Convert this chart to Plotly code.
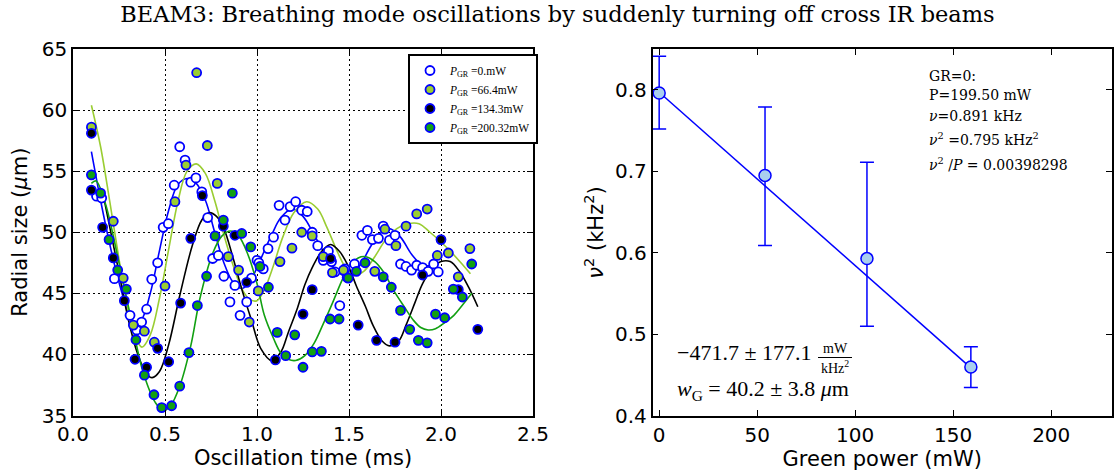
import plotly.graph_objects as go

W, H = 1115, 471

# ---------------- left panel data ----------------
t0 = [0.128, 0.156, 0.225, 0.31, 0.346, 0.373, 0.40, 0.428, 0.46, 0.49, 0.518, 0.55, 0.58, 0.609, 0.64,
      0.668, 0.70, 0.732, 0.759, 0.79, 0.82, 0.853, 0.88, 0.908, 0.944, 0.97, 1.00, 1.01, 1.034, 1.06,
      1.09, 1.12, 1.152, 1.18, 1.21, 1.243, 1.273, 1.30, 1.33, 1.36, 1.388, 1.405, 1.424, 1.45, 1.478,
      1.49, 1.53, 1.57, 1.60, 1.627, 1.66, 1.686, 1.72, 1.75, 1.78, 1.81, 1.84, 1.868, 1.90, 1.93,
      1.96, 1.985]
r0 = [52.95, 52.8, 46.2, 43.2, 42.0, 42.65, 43.7, 46.15, 47.5, 50.4, 50.7, 53.85, 57.0, 55.9, 54.1,
      54.45, 53.3, 51.2, 47.85, 48.1, 46.4, 44.3, 45.65, 43.2, 44.3, 46.25, 47.7, 47.5, 47.0, 48.66,
      49.6, 52.2, 51.0, 52.1, 52.5, 51.8, 51.7, 50.0, 48.9, 47.7, 48.45, 47.6, 46.75, 44.0, 47.0,
      46.3, 47.4, 49.75, 50.15, 49.4, 49.5, 50.5, 49.35, 49.75, 47.4, 47.2, 46.9, 47.3, 47.1, 46.8,
      47.4, 46.75]

t1 = [0.10, 0.219, 0.273, 0.328, 0.388, 0.442, 0.50, 0.554, 0.614, 0.672, 0.73, 0.784, 0.844, 0.90,
      0.958, 1.007, 1.125, 1.19, 1.243, 1.30, 1.36, 1.41, 1.47, 1.64, 1.695, 1.755, 1.81, 1.868,
      1.925, 1.98, 2.04, 2.094, 2.157]
r1 = [58.6, 50.9, 46.25, 42.4, 41.9, 41.0, 45.6, 52.5, 55.5, 63.06, 57.1, 54.0, 48.0, 46.9,
      42.65, 45.2, 47.6, 48.7, 50.0, 49.7, 48.0, 46.7, 46.9, 46.8, 50.25, 48.9, 50.5, 51.5,
      51.9, 48.1, 48.3, 46.35, 48.66]

t2 = [0.10, 0.10, 0.161, 0.219, 0.279, 0.337, 0.40, 0.46, 0.52, 0.585, 0.64, 0.703, 0.817, 0.88,
      0.944, 1.10, 1.25, 1.30, 1.40, 1.55, 1.65, 1.75, 1.90, 2.00, 2.094, 2.20]
r2 = [58.1, 53.45, 50.4, 47.9, 44.4, 39.6, 38.95, 40.5, 39.4, 44.2, 49.5, 53.0, 50.5, 49.75,
      45.9, 39.55, 43.3, 45.3, 47.85, 42.4, 41.15, 41.0, 46.5, 49.4, 45.3, 42.05]

t3 = [0.10, 0.15, 0.196, 0.243, 0.29, 0.342, 0.388, 0.44, 0.482, 0.536, 0.58, 0.63, 0.676, 0.726,
      0.772, 0.817, 0.866, 0.917, 0.966, 1.016, 1.062, 1.11, 1.156, 1.205, 1.25, 1.30, 1.35, 1.397,
      1.446, 1.496, 1.54, 1.587, 1.686, 1.73, 1.78, 1.83, 1.877, 1.925, 1.97, 2.02, 2.067, 2.116,
      2.167]
r3 = [54.7, 53.2, 49.4, 46.9, 45.35, 41.2, 38.3, 36.7, 35.65, 35.8, 37.4, 40.15, 44.0, 46.4,
      49.7, 51.0, 53.2, 49.9, 48.8, 47.2, 45.5, 41.8, 39.9, 41.6, 38.95, 40.2, 40.25, 42.9,
      42.9, 46.25, 46.8, 47.5, 46.35, 45.5, 43.6, 42.05, 41.15, 40.95, 43.3, 43.0, 45.35, 44.7,
      47.4]

# fitted curves
ft0 = [0.10, 0.15, 0.20, 0.25, 0.30, 0.33, 0.37, 0.42, 0.47, 0.52, 0.57, 0.62, 0.67, 0.72, 0.77,
       0.82, 0.87, 0.92, 0.97, 1.02, 1.08, 1.13, 1.19, 1.25, 1.31, 1.37, 1.43, 1.50, 1.56, 1.62,
       1.67, 1.72, 1.78, 1.84, 1.90, 1.95]
fr0 = [56.6, 52.6, 49.0, 45.9, 43.4, 42.6, 42.8, 45.0, 48.5, 51.8, 53.9, 54.4, 54.0, 52.6, 50.0,
       47.5, 45.9, 45.4, 46.2, 47.8, 49.8, 51.2, 51.9, 51.3, 49.8, 48.2, 46.9, 46.3, 47.3, 48.9,
       49.9, 50.3, 49.6, 48.2, 47.3, 47.3]

ft1 = [0.10, 0.15, 0.20, 0.25, 0.30, 0.34, 0.375, 0.42, 0.47, 0.52, 0.57, 0.62, 0.67, 0.72, 0.77,
       0.82, 0.87, 0.92, 0.96, 1.0, 1.04, 1.09, 1.14, 1.20, 1.27, 1.33, 1.38, 1.44, 1.49, 1.53,
       1.58, 1.64, 1.70, 1.76, 1.82, 1.88, 1.94, 2.0, 2.06, 2.12, 2.16]
fr1 = [60.4, 57.0, 52.5, 47.8, 43.6, 41.4, 40.6, 41.6, 44.6, 48.6, 52.5, 55.0, 55.6, 54.8, 52.6,
       49.8, 47.3, 45.3, 44.5, 44.4, 45.3, 47.3, 49.6, 51.6, 52.5, 51.9, 50.4, 48.3, 46.9, 46.5,
       46.8, 48.0, 49.4, 50.3, 50.7, 50.7, 50.0, 49.2, 48.3, 47.3, 46.6]

ft2 = [0.165, 0.2, 0.25, 0.30, 0.35, 0.40, 0.43, 0.47, 0.52, 0.58, 0.65, 0.70, 0.74, 0.78, 0.82,
       0.87, 0.92, 0.97, 1.02, 1.08, 1.13, 1.17, 1.22, 1.26, 1.30, 1.35, 1.40, 1.45, 1.50, 1.54,
       1.59, 1.63, 1.68, 1.72, 1.77, 1.81, 1.86, 1.90, 1.95, 2.0, 2.05, 2.10, 2.15, 2.20]
fr2 = [53.0, 50.4, 46.7, 42.9, 40.1, 38.4, 38.1, 38.6, 40.8, 44.8, 49.0, 51.0, 51.6, 51.3, 50.3,
       47.9, 45.2, 42.8, 40.5, 39.5, 40.2, 41.8, 43.8, 45.7, 47.1, 48.4, 49.0, 48.4, 47.1, 45.6,
       43.9, 42.4, 41.1, 40.7, 41.1, 42.4, 44.3, 45.8, 47.0, 47.6, 47.6, 46.8, 45.5, 43.9]

ft3 = [0.10, 0.125, 0.175, 0.25, 0.32, 0.38, 0.45, 0.49, 0.53, 0.58, 0.64, 0.69, 0.76, 0.81,
       0.855, 0.90, 0.95, 1.0, 1.04, 1.09, 1.13, 1.17, 1.21, 1.26, 1.31, 1.36, 1.41, 1.46, 1.50,
       1.55, 1.59, 1.64, 1.69, 1.74, 1.80, 1.85, 1.89, 1.93, 1.97, 2.02, 2.07, 2.12, 2.167]
fr3 = [54.0, 54.2, 52.4, 47.5, 42.6, 38.6, 36.0, 35.4, 35.8, 37.4, 40.7, 44.6, 48.3, 49.7,
       50.1, 49.7, 48.2, 45.8, 43.2, 41.3, 40.1, 39.6, 39.5, 39.9, 40.9, 42.5, 44.2, 46.0, 47.2,
       47.9, 48.0, 47.6, 46.7, 45.3, 43.9, 42.8, 42.2, 42.0, 42.1, 42.6, 43.2, 44.1, 45.0]

labels = ["<i>P</i><sub>GR</sub> =0.mW", "<i>P</i><sub>GR</sub> =66.4mW",
          "<i>P</i><sub>GR</sub> =134.3mW", "<i>P</i><sub>GR</sub> =200.32mW"]

# ---------------- right panel data ----------------
power = [0.0, 54.0, 106.0, 159.0]
nu2 = [0.796, 0.695, 0.593, 0.460]
nu2_up = [0.045, 0.084, 0.118, 0.025]
nu2_dn = [0.044, 0.086, 0.083, 0.025]
fit_p = [0.0, 159.0]
fit_nu2 = [0.797, 0.459]

# ---------------- styling ----------------
fill_cols = ["white", "#9acd32", "black", "#12a012"]
curve_cols = ["#0000ff", "#9acd32", "black", "#12a012"]

fig = go.Figure()

for tx, ry, c in zip([ft0, ft1, ft2, ft3], [fr0, fr1, fr2, fr3], curve_cols):
    fig.add_trace(go.Scatter(x=tx, y=ry, mode="lines", line=dict(color=c, width=1.6, shape="spline"),
                             showlegend=False, xaxis="x", yaxis="y", hoverinfo="skip"))

for tx, ry, fc, lab in zip([t0, t1, t2, t3], [r0, r1, r2, r3], fill_cols, labels):
    fig.add_trace(go.Scatter(x=tx, y=ry, mode="markers", name=lab,
                             marker=dict(size=9, color=fc, line=dict(color="#0000ff", width=1.8)),
                             xaxis="x", yaxis="y"))

fig.add_trace(go.Scatter(x=fit_p, y=fit_nu2, mode="lines", line=dict(color="#0000ff", width=1.5),
                         showlegend=False, xaxis="x2", yaxis="y2"))
fig.add_trace(go.Scatter(x=power, y=nu2, mode="markers", showlegend=False,
                         error_y=dict(type="data", symmetric=False, array=nu2_up, arrayminus=nu2_dn,
                                      color="#0000ff", thickness=1.5, width=7),
                         marker=dict(size=12, color="#a9cfee", line=dict(color="#0000ff", width=1.5)),
                         xaxis="x2", yaxis="y2"))

def px_x(p):
    return p / W

def px_y(p):
    return 1 - p / H

tickfont = dict(family="DejaVu Sans", size=20, color="black")
titlefont = dict(family="DejaVu Sans", size=21, color="black")
common = dict(showline=True, linecolor="black", linewidth=1.5, mirror="allticks", ticks="inside",
              ticklen=6, tickwidth=1, tickcolor="black", tickfont=tickfont, zeroline=False,
              automargin=False)
grid = dict(showgrid=True, gridcolor="black", griddash="2px,3px", gridwidth=1)

fig.update_layout(
    width=W, height=H, margin=dict(l=0, r=0, t=0, b=0, autoexpand=False),
    paper_bgcolor="white", plot_bgcolor="white",
    title=dict(text="BEAM3: Breathing mode oscillations by suddenly turning off cross IR beams",
               x=0.5, xanchor="center", y=1 - 14 / H, yanchor="middle", automargin=False,
               font=dict(family="DejaVu Serif", size=22.5, color="black")),
    xaxis=dict(domain=[px_x(73), px_x(533)], range=[0, 2.5], dtick=0.5, tickformat=".1f",
               anchor="y", title=dict(text="Oscillation time (ms)", font=titlefont, standoff=0),
               **grid, **common),
    yaxis=dict(domain=[px_y(415.5), px_y(49)], range=[35, 65], dtick=5, anchor="x",
               title=dict(text="Radial size (<i>μ</i>m)", font=titlefont, standoff=8),
               **grid, **common),
    xaxis2=dict(domain=[px_x(652.5), px_x(1112)], range=[-3.4, 231], tickvals=[0, 50, 100, 150, 200],
                showgrid=False, anchor="y2",
                title=dict(text="Green power (mW)", font=titlefont, standoff=0), **common),
    yaxis2=dict(domain=[px_y(416), px_y(49)], range=[0.4, 0.85], dtick=0.1, tickformat=".1f",
                showgrid=False, anchor="x2",
                title=dict(text="<i>ν</i><sup>2</sup> (kHz<sup>2</sup>)", font=titlefont, standoff=6),
                **common),
    legend=dict(x=px_x(408), y=px_y(54), xanchor="left", yanchor="top", bgcolor="white",
                bordercolor="black", borderwidth=2, tracegroupgap=0, itemwidth=30,
                font=dict(family="Liberation Serif", size=11.5, color="black")),
    showlegend=True,
)

# annotation text on right panel
info = ["GR=0:", "P=199.50 mW", "<i>ν</i>=0.891 kHz", "<i>ν</i><sup>2</sup> =0.795 kHz<sup>2</sup>",
        "<i>ν</i><sup>2</sup> /<i>P</i> = 0.00398298"]
info_y = [76, 95, 116, 139, 164]
for txt, yy in zip(info, info_y):
    fig.add_annotation(x=px_x(927), y=px_y(yy), xref="paper", yref="paper", text=txt, showarrow=False,
                       xanchor="left", yanchor="middle",
                       font=dict(family="DejaVu Serif", size=14, color="black"))

fig.add_annotation(x=px_x(675), y=px_y(352), xref="paper", yref="paper", text="−471.7 ± 177.1",
                   showarrow=False, xanchor="left", yanchor="middle",
                   font=dict(family="Liberation Serif", size=22, color="black"))
fig.add_annotation(x=px_x(835), y=px_y(348), xref="paper", yref="paper", text="mW",
                   showarrow=False, xanchor="center", yanchor="middle",
                   font=dict(family="Liberation Serif", size=14, color="black"))
fig.add_annotation(x=px_x(835), y=px_y(367), xref="paper", yref="paper", text="kHz<sup>2</sup>",
                   showarrow=False, xanchor="center", yanchor="middle",
                   font=dict(family="Liberation Serif", size=14, color="black"))
fig.add_shape(type="line", xref="paper", yref="paper", x0=px_x(818), x1=px_x(852),
              y0=px_y(357.5), y1=px_y(357.5), line=dict(color="black", width=1))
fig.add_annotation(x=px_x(675), y=px_y(390), xref="paper", yref="paper",
                   text="<i>w</i><sub>G</sub> = 40.2 ± 3.8 <i>μ</i>m",
                   showarrow=False, xanchor="left", yanchor="middle",
                   font=dict(family="Liberation Serif", size=22, color="black"))

fig.write_html("out.html")
